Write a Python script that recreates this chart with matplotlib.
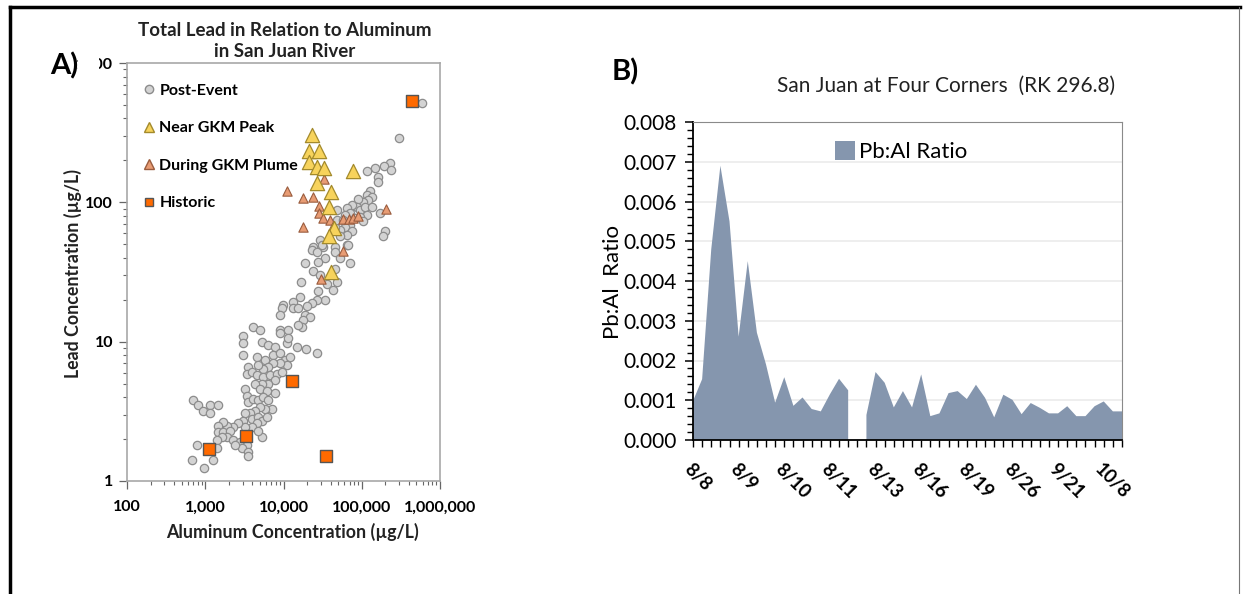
import numpy as np
import matplotlib
matplotlib.use('Agg')
import matplotlib.pyplot as plt
from matplotlib.lines import Line2D
from matplotlib.patches import Patch, Rectangle
from matplotlib.ticker import FixedLocator, FixedFormatter, MultipleLocator, NullFormatter, LogLocator

plt.rcParams['font.family'] = ['Lato', 'DejaVu Sans']

# ---- panel A : total Pb vs Al (ug/L)
post_event = [
    (583000, 514), (302000, 288), (229700, 191), (194200, 182), (236400, 171),
    (147600, 176), (117700, 168), (162800, 153), (162800, 141), (127500, 121),
    (115700, 113), (134000, 110), (121300, 104), (104700, 101), (90300, 105),
    (86180, 93), (74400, 96), (64200, 91), (70760, 84), (61060, 81),
    (95020, 88), (110100, 93), (134000, 93), (115700, 81), (95020, 79),
    (81970, 77), (104700, 73), (171000, 84), (70760, 69), (61060, 67),
    (52720, 63), (74400, 62), (64200, 58), (198200, 62), (188400, 57),
    (52720, 57), (45510, 67), (47860, 75), (58100, 75), (47860, 88),
    (64200, 49), (45510, 48), (29240, 54), (32260, 48), (24040, 48),
    (22920, 45.5), (26550, 44), (30760, 49), (33880, 40), (27860, 37.5),
    (18830, 36.6), (24040, 32), (29240, 30), (45510, 44), (52720, 40),
    (70760, 36.6), (67320, 49), (45510, 33), (35640, 26), (43290, 23.5),
    (47860, 27), (16600, 27), (27860, 23), (33880, 20), (26550, 20),
    (22920, 19), (19800, 18), (16250, 21), (13340, 19.4), (13340, 17.4),
    (15450, 17.4), (18830, 15.6), (21830, 15), (17910, 14.3), (17090, 12.8),
    (15450, 13.2), (9940, 18.3), (9480, 17.4), (9020, 15.6), (4112, 12.8),
    (5010, 12.1), (9020, 12.1), (11510, 12.1),
    (3064, 11), (3064, 9.8), (5264, 10), (6395, 9.5), (7786, 9.2),
    (10990, 9.75), (11510, 10.6), (14750, 9.2), (19400, 8.8), (27040, 8.3),
    (9020, 11.5), (3064, 8.0), (4540, 7.8), (5805, 7.4), (7410, 8.0),
    (9020, 8.3), (10450, 7.4), (12100, 7.8), (10990, 6.8), (9020, 7.0),
    (7410, 7.0), (6395, 6.6), (5521, 6.4), (4764, 6.8), (3550, 6.6),
    (3388, 5.9), (3923, 6.1), (4540, 5.8), (5521, 5.6), (6718, 5.8),
    (8185, 5.9), (9480, 6.1), (7786, 5.3), (6395, 5.0), (5264, 5.0),
    (4324, 5.0), (5010, 4.6), (6100, 4.4), (7786, 4.3), (3220, 4.6),
    (3388, 4.1), (3550, 3.7), (4112, 3.9), (4764, 3.8), (5521, 4.0),
    (6395, 3.8), (7063, 3.3), (5805, 3.3), (5010, 3.4), (4324, 3.2),
    (3733, 3.1), (3220, 3.1), (3064, 2.7), (3923, 2.8), (4764, 2.9),
    (5264, 2.7), (6100, 2.9), (4540, 2.6), (3923, 2.45), (3220, 2.45),
    (2643, 2.6), (2282, 2.45), (1880, 2.5), (1702, 2.66), (1468, 2.5),
    (1468, 2.26), (1702, 2.26), (2070, 2.3), (1880, 2.08), (2282, 1.97),
    (2780, 1.91), (3388, 1.81), (2923, 1.72), (3550, 1.62), (3550, 1.51),
    (2400, 1.81), (1622, 2.08), (1400, 1.97), (5264, 2.08), (4764, 2.3),
    (703, 3.8), (815, 3.5), (944, 3.2), (1150, 3.5), (1468, 3.5),
    (1150, 3.06), (778, 1.81), (671, 1.42), (964, 1.23), (1267, 1.42),
    (1400, 1.72),
]
near_peak = [
    (23300, 305), (21380, 235), (28660, 235), (21380, 196), (26550, 180),
    (33210, 176), (78010, 169), (26550, 138), (40900, 118), (38490, 93),
    (43700, 65.5), (38490, 57.4), (40900, 31.4),
]
plume = [
    (11200, 120), (18000, 108), (24040, 110), (33100, 147), (28500, 94),
    (28660, 83.5), (31900, 77.5), (39280, 74.8), (57600, 76), (68000, 76),
    (78010, 77.5), (90300, 80), (204000, 90), (17910, 67), (42900, 67.5),
    (58100, 45), (29850, 28),
]
historic = [(434700, 537), (1130, 1.69), (3330, 2.10), (12730, 5.22), (34580, 1.52)]

al_ticks = [100, 1000, 10000, 100000, 1000000]
al_labels = ['100', '1,000', '10,000', '100,000', '1,000,000']
pb_ticks = [1, 10, 100, 1000]
pb_labels = ['1', '10', '100', '1000']

# ---- panel B : Pb:Al ratio at Four Corners (one value per sample, NaN = no data)
pb_al = [0.00098, 0.00153, 0.0048, 0.0069, 0.0055, 0.0026, 0.0045, 0.0027,
         0.0019, 0.00094, 0.00158, 0.00086, 0.00107, 0.00078, 0.00072, 0.00115,
         0.00154, 0.00125, np.nan, 0.00063, 0.00171, 0.00144, 0.00082, 0.00123,
         0.00082, 0.00165, 0.0006, 0.00067, 0.00118, 0.00123, 0.00103, 0.00139,
         0.00106, 0.00057, 0.00114, 0.00101, 0.00065, 0.00093, 0.00081, 0.00067,
         0.00067, 0.00085, 0.0006, 0.0006, 0.00085, 0.00097, 0.00072, 0.00072]
sample_labels = ['8/8', '', '', '', '', '8/9', '', '', '', '', '8/10', '', '', '', '', '8/11',
                 '', '', '', '', '8/13', '', '', '', '', '8/16', '', '', '', '', '8/19', '',
                 '', '', '', '8/26', '', '', '', '', '9/21', '', '', '', '', '10/8', '', '']

W, H = 1245, 594
fig = plt.figure(figsize=(W / 100, H / 100), dpi=100)

# ================= panel A
ax = fig.add_axes([127 / W, 1 - 481 / H, 313 / W, 418 / H])
ax.set_xscale('log')
ax.set_yscale('log')
ax.set_xlim(100, 1e6)
ax.set_ylim(1, 1000)

x, y = zip(*post_event)
ax.scatter(x, y, s=36, marker='o', facecolor='#d3d3d3', edgecolor='#8c8c8c', linewidth=0.9, zorder=2)
x, y = zip(*plume)
ax.scatter(x, y, s=45, marker='^', facecolor='#e89c74', edgecolor='#9a5c3e', linewidth=0.8, zorder=3)
x, y = zip(*near_peak)
ax.scatter(x, y, s=105, marker='^', facecolor='#f7d35c', edgecolor='#a38a2c', linewidth=0.9, zorder=4)
x, y = zip(*historic)
ax.scatter(x, y, s=70, marker='s', facecolor='#ff6a00', edgecolor='#555555', linewidth=1.0, zorder=5)

ax.xaxis.set_major_locator(FixedLocator(al_ticks))
ax.xaxis.set_major_formatter(FixedFormatter(al_labels))
ax.yaxis.set_major_locator(FixedLocator(pb_ticks))
ax.yaxis.set_major_formatter(FixedFormatter(pb_labels))
ax.xaxis.set_minor_locator(LogLocator(base=10, subs=np.arange(2, 10), numticks=20))
ax.yaxis.set_minor_locator(LogLocator(base=10, subs=np.arange(2, 10), numticks=20))
ax.xaxis.set_minor_formatter(NullFormatter())
ax.yaxis.set_minor_formatter(NullFormatter())
ax.tick_params(which='major', length=6, width=0.9, color='#666666', direction='out', pad=4)
ax.tick_params(which='minor', length=3, width=0.8, color='#666666', direction='out')
ax.tick_params(axis='x', pad=8)
for lab in ax.get_xticklabels() + ax.get_yticklabels():
    lab.set_fontweight('bold')
    lab.set_fontsize(11.5)
for sp in ax.spines.values():
    sp.set_color('#a8a8a8')
    sp.set_linewidth(1.2)

handles = [
    Line2D([], [], ls='', marker='o', ms=6, mfc='#d3d3d3', mec='#8c8c8c'),
    Line2D([], [], ls='', marker='^', ms=7, mfc='#f7d35c', mec='#a38a2c'),
    Line2D([], [], ls='', marker='^', ms=6.5, mfc='#e89c74', mec='#9a5c3e'),
    Line2D([], [], ls='', marker='s', ms=6, mfc='#ff6a00', mec='#555555'),
]
leg = ax.legend(handles, ['Post-Event', 'Near GKM Peak', 'During GKM Plume', 'Historic'],
                loc='upper left', bbox_to_anchor=(0.055, 0.95), frameon=False,
                handlelength=0.6, handletextpad=0.35, labelspacing=1.45, borderaxespad=0,
                borderpad=0, prop={'weight': 'bold', 'size': 11.5})

fig.text(285 / W, 1 - 41 / H, 'Total Lead in Relation to Aluminum\nin San Juan River',
         ha='center', va='center', fontsize=13.5, fontweight='bold', linespacing=1.3, color='#222222')
fig.text(73 / W, 1 - 274 / H, 'Lead Concentration (µg/L)', rotation=90, ha='center', va='center',
         fontsize=12.8, fontweight='bold', color='#222222')
fig.text(292 / W, 1 - 532 / H, 'Aluminum Concentration (µg/L)', ha='center', va='center',
         fontsize=12.8, fontweight='bold', color='#222222')
fig.text(50 / W, 1 - 66 / H, 'A)', ha='left', va='center', fontsize=21, fontweight='bold')
fig.patches.append(Rectangle((78 / W, 1 - 74 / H), 21 / W, 20 / H, transform=fig.transFigure,
                             facecolor='white', edgecolor='none', zorder=10))

# ================= panel B
bx = fig.add_axes([693 / W, 1 - 440 / H, 429 / W, 318 / H])
idx = np.arange(len(pb_al))
bx.fill_between(idx, pb_al, color='#8596ae', linewidth=0, zorder=2)
bx.set_xlim(0, len(pb_al) - 1)
bx.set_ylim(0, 0.008)
bx.yaxis.set_major_locator(MultipleLocator(0.001))
bx.yaxis.set_minor_locator(MultipleLocator(0.0002))
bx.yaxis.set_major_formatter(plt.FormatStrFormatter('%.3f'))
bx.grid(axis='y', which='major', color='#ebebeb', linewidth=1.2)
bx.set_axisbelow(True)
bx.set_xticks(idx)
bx.set_xticklabels(sample_labels, rotation=-45, ha='left', va='top', rotation_mode='anchor',
                   fontsize=13.5, fontweight='bold')
bx.tick_params(axis='y', which='major', length=6, width=1.1, labelsize=15, pad=6)
bx.tick_params(axis='y', which='minor', length=4, width=1.0)
bx.tick_params(axis='x', length=5, width=1.0, pad=10)
bx.spines['left'].set_color('black')
bx.spines['bottom'].set_color('black')
bx.spines['left'].set_linewidth(1.3)
bx.spines['bottom'].set_linewidth(1.3)
bx.spines['top'].set_color('#8a8a8a')
bx.spines['right'].set_color('#8a8a8a')
bx.legend([Patch(facecolor='#8596ae')], ['Pb:Al Ratio'], loc='upper left',
          bbox_to_anchor=(0.33, 0.94), frameon=False, handlelength=0.9, handleheight=0.9,
          handletextpad=0.2, borderaxespad=0, borderpad=0, fontsize=16)

fig.text(946 / W, 1 - 86 / H, 'San Juan at Four Corners  (RK 296.8)', ha='center', va='center',
         fontsize=15, color='#222222')
fig.text(613 / W, 1 - 282 / H, 'Pb:Al  Ratio', rotation=90, ha='center', va='center', fontsize=16)
fig.text(612 / W, 1 - 72 / H, 'B)', ha='left', va='center', fontsize=21, fontweight='bold')

# outer frame
fig.add_artist(Line2D([10 / W, 1240 / W], [1 - 7 / H, 1 - 7 / H], color='black', lw=2.5,
                      transform=fig.transFigure))
fig.add_artist(Line2D([10 / W, 10 / W], [1 - 7 / H, 0], color='black', lw=2.5,
                      transform=fig.transFigure))
fig.add_artist(Line2D([1239 / W, 1239 / W], [1 - 7 / H, 0], color='#777777', lw=0.8,
                      transform=fig.transFigure))

fig.savefig('out.png', dpi=100)
